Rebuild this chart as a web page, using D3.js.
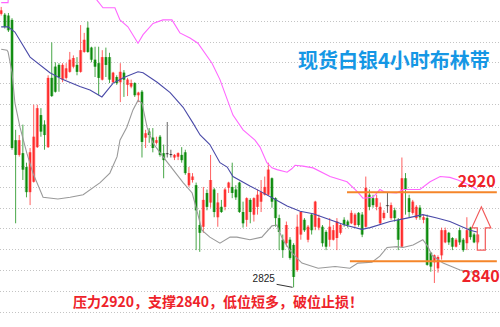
<!DOCTYPE html>
<html><head><meta charset="utf-8">
<script src="https://cdn.jsdelivr.net/npm/d3@7"></script>
<style>html,body{margin:0;padding:0;background:#fff;overflow:hidden}</style>
</head><body><svg id="c" width="500" height="327"></svg>
<script>
// ---- data (4h silver candles) ----
const openP = [3126,3125,3124,3119,2980,2963,2965,2949,2920,2932,2972,3009,2998,2972,3052,3065,3067,3050,3052,3059,
3065,3067,3059,3082,3110,3087,3073,3069,3050,3076,3076,3047,3053,3047,3058,3044,3042,3046,3032,3036,
2983,2990,2983,2977,2984,2965,2965,2964,2960,2961,2963,2966,2928,2934,2928,2882,2880,2919,2908,2923,
2891,2903,2903,2925,2926,2923,2931,2897,2888,2911,2894,2903,2909,2917,2917,2936,2913,2890,2865,2861,
2865,2859,2830,2871,2888,2865,2894,2880,2879,2880,2874,2865,2865,2867,2873,2888,2886,2884,2882,2896,
2894,2880,2917,2913,2903,2884,2890,2905,2890,2899,2888,2857,2936,2913,2896,2890,2902,2888,2890,2850,
2839,2832,2847,2862,2873,2867,2857,2876,2865,2861,2879,2871,2862];
const closeP = [3130,3111,3107,2971,2963,2980,2946,2920,2966,2984,3017,2990,2986,3052,3031,3036,3053,3067,3063,3073,
3075,3059,3084,3096,3082,3073,3065,3052,3076,3067,3050,3058,3046,3059,3050,3050,3046,3032,3035,2978,
2988,2986,2971,2980,2963,2957,2965,2964,2963,2965,2957,2942,2942,2938,2899,2873,2911,2903,2934,2897,
2908,2897,2923,2931,2919,2914,2897,2884,2913,2897,2913,2917,2920,2926,2946,2909,2890,2874,2853,2882,
2844,2822,2880,2897,2876,2880,2876,2909,2890,2861,2857,2880,2876,2886,2882,2882,2882,2896,2894,2882,
2871,2925,2903,2905,2913,2903,2896,2905,2905,2890,2865,2936,2923,2897,2909,2903,2891,2891,2836,2834,
2847,2845,2876,2876,2862,2857,2865,2862,2853,2876,2868,2862,2871];
const highP = [3134,3127,3127,3121,2992,2986,2998,2954,2971,3021,3021,3017,3003,3055,3093,3070,3069,3069,3069,3082,
3078,3076,3113,3104,3117,3088,3088,3088,3084,3087,3081,3059,3055,3069,3061,3052,3050,3047,3036,3038,
2992,2994,2994,2984,2986,2975,3001,2969,2964,2966,2972,2969,2949,2942,2931,2899,2926,2923,2963,2925,
2919,2911,2925,2932,2954,2928,2932,2909,2914,2913,2914,2923,2934,2938,2954,2937,2914,2894,2871,2886,
2868,2861,2894,2898,2890,2882,2895,2910,2894,2882,2876,2890,2882,2890,2884,2891,2888,2899,2896,2897,
2897,2938,2923,2917,2917,2908,2899,2919,2908,2902,2890,2960,2942,2917,2911,2905,2905,2894,2894,2851,
2848,2847,2879,2879,2874,2868,2867,2879,2867,2891,2880,2873,2871];
const lowP = [3124,3109,3105,2969,2884,2961,2934,2914,2905,2931,2971,2984,2969,2971,3030,3035,3036,3047,3050,3058,
3063,3055,3058,3081,3081,3070,3053,3032,3049,3053,3046,3046,3044,3024,3030,3031,3040,3030,3024,2960,
2971,2977,2966,2975,2961,2936,2960,2960,2957,2957,2954,2940,2926,2931,2853,2851,2873,2899,2902,2891,
2880,2896,2899,2919,2913,2911,2896,2879,2880,2884,2886,2894,2897,2916,2916,2902,2880,2853,2844,2857,
2842,2810,2828,2865,2874,2862,2871,2876,2876,2857,2853,2857,2864,2853,2871,2880,2879,2883,2880,2880,
2868,2879,2899,2902,2899,2882,2888,2896,2888,2886,2853,2856,2894,2891,2894,2888,2888,2884,2835,2828,
2815,2827,2842,2861,2859,2853,2856,2859,2851,2853,2865,2861,2860];

// Bollinger bands (candle index, value)
const upperIdx = [0,1.9,2.3,26,26.5,28.2,31.5,32.9,35.1,37.9,39.3,42.05,44.8,47.3,49.5,52.3,54.5,58.4,60.6,64.2,67,70.3,71.7,73.6,75,76.4,79.2,80.5,81.4,83.6,86.4,91.1,95.8,98.8,100.2,103,104.9,106.3,109.6,111.3,112.7,116,118.8,121.6,124.3,126.5,129.9,131.8];
const upperVal = [3139,3139,3185,3185,3142,3133,3133,3119,3111,3092,3102,3115,3119,3119,3104,3098,3092,3069,3050,3009,2992,2980,2972,2954,2948,2946,2943,2947,2951,2950,2948,2938,2932,2920,2913,2914,2923,2920,2919,2923,2923,2923,2932,2938,2937,2934,2928,2923];
const midIdx = [0,1.9,3.8,8,13.5,17.1,21.8,24.6,27.9,31,34.3,37.9,39.3,43.2,46.8,50.4,53.1,55.1,57.8,60.6,62.6,64.2,68.9,72.2,75.3,79.2,82.8,86.4,91.1,95.2,99.9,102.2,107.7,112.4,116.8,120.7,124.3,129.9,131.8];
const midVal = [3111,3111,3105,3076,3058,3050,3042,3038,3030,3046,3053,3059,3058,3047,3035,3018,3000,2986,2975,2954,2949,2938,2927,2920,2913,2904,2898,2895,2888,2882,2877,2879,2886,2890,2894,2890,2886,2876,2874];
const lowIdx = [0,1.6,1.9,3,3.8,5.2,7.1,8.8,11.6,15.7,19.1,22.7,27.4,30.1,32.1,32.9,34.8,36.5,37.9,39,40.4,42,44.8,47.6,50.4,52.9,54.2,55.6,57.8,60.6,63.4,65.3,68.9,72.2,75,76.4,78,80.5,83.3,87.8,92.5,96.6,98.8,102.7,104.9,106.9,109.6,111.3,114.1,116.8,118.2,119.3,122.4,127.1,129.9,131.8];
const lowVal = [3085,3084,3082,3058,3023,2995,2965,2942,2914,2912,2914,2917,2931,2942,2961,2980,2995,3015,3026,3023,2995,2977,2961,2946,2931,2919,2899,2876,2868,2861,2868,2868,2865,2868,2881,2882,2865,2850,2838,2832,2834,2832,2838,2839,2846,2856,2857,2856,2859,2865,2857,2847,2838,2830,2828,2827];

const gridTicks = [3118,3094,3070,3046,3022,2998,2974,2950,2926,2902,2878,2854,2830,2806,2782];
const levels = [2920, 2840];
const levelLabels = ["2920", "2840"];
const levelStartIdx = [95.8, 96.6];
const levelEndIdx = 137.3;
const lowMarkIdx = 81;
const lowMarkText = "2825";
const titleText = "现货白银4小时布林带";
const noteText = "压力2920，支撑2840，低位短多，破位止损！";
const arrowIdx = 133;
const arrowRange = [2903, 2853];

// ---- drawing ----
const W = 500, H = 327;
const svg = d3.select("#c");
const x = d3.scaleLinear().domain([0, 132]).range([1.2, 477.7]);
const y = d3.scaleLinear().domain([3142, 2763]).range([0, 328]);

// dotted grid
const grid = svg.append("g").call(d3.axisRight(y).tickValues(gridTicks).tickSize(W).tickFormat(""));
grid.select(".domain").remove();
grid.selectAll("line").attr("stroke", "#c4c4c4").attr("stroke-dasharray", "1,2").attr("shape-rendering", "crispEdges");

const candles = openP.map((o, i) => ({i, o, c: closeP[i], h: highP[i], l: lowP[i]}));
const col = d => d.c > d.o ? "#ff2b2b" : d.c < d.o ? "#0b8a0b" : "#333";

const cg = svg.append("g");
cg.selectAll("line.w").data(candles).join("line")
  .attr("x1", d => x(d.i)).attr("x2", d => x(d.i))
  .attr("y1", d => y(d.h)).attr("y2", d => y(d.l))
  .attr("stroke", col).attr("stroke-opacity", 0.75).attr("stroke-width", 1);
cg.selectAll("rect.halo").data(candles).join("rect")
  .attr("x", d => x(d.i) - 1.7).attr("width", 3.4)
  .attr("y", d => y(Math.max(d.o, d.c)))
  .attr("height", d => Math.max(1, Math.abs(y(d.o) - y(d.c))))
  .attr("fill", col).attr("fill-opacity", 0.4);
cg.selectAll("rect.body").data(candles).join("rect")
  .attr("x", d => x(d.i) - 0.9).attr("width", 1.8)
  .attr("y", d => y(Math.max(d.o, d.c)))
  .attr("height", d => Math.max(1, Math.abs(y(d.o) - y(d.c))))
  .attr("fill", col);

// bands
const bandLine = (idx, val) => d3.line().x((d, k) => x(idx[k])).y(d => y(d))(val);
svg.append("path").attr("d", bandLine(upperIdx, upperVal)).attr("fill", "none").attr("stroke", "#ff66ff").attr("stroke-width", 1.1);
svg.append("path").attr("d", bandLine(midIdx, midVal)).attr("fill", "none").attr("stroke", "#4a4aa8").attr("stroke-width", 1.1);
svg.append("path").attr("d", bandLine(lowIdx, lowVal)).attr("fill", "none").attr("stroke", "#9a9a9a").attr("stroke-width", 1.1);

// support / resistance lines
levels.forEach((v, k) => {
  svg.append("line").attr("x1", x(levelStartIdx[k])).attr("x2", x(levelEndIdx))
    .attr("y1", y(v)).attr("y2", y(v)).attr("stroke", "#f5862a").attr("stroke-width", 2);
  svg.append("text").attr("x", x(126.5) + (k ? 4 : 0)).attr("y", y(v) + (k ? 21 : -5))
    .attr("font-family", "'Noto Sans CJK SC', sans-serif").attr("font-weight", "bold")
    .attr("font-size", 16).attr("fill", "#ee2229").text(levelLabels[k]);
});

// low annotation
const lx = x(lowMarkIdx), ly = y(lowP[lowMarkIdx]);
svg.append("line").attr("x1", lx - 17).attr("y1", ly - 3).attr("x2", lx - 1).attr("y2", ly)
  .attr("stroke", "#333").attr("stroke-width", 1);
svg.append("text").attr("x", lx - 41).attr("y", ly - 5)
  .attr("font-family", "'Liberation Sans', Arial, sans-serif").attr("font-size", 10)
  .attr("fill", "#222").text(lowMarkText);

// up arrow
const ax = x(arrowIdx), at = y(arrowRange[0]), ab = y(arrowRange[1]);
const hw = 9.5, sw = 4, hh = 21;
svg.append("path")
  .attr("d", `M${ax},${at} L${ax + hw},${at + hh} L${ax + sw},${at + hh} L${ax + sw},${ab} L${ax - sw},${ab} L${ax - sw},${at + hh} L${ax - hw},${at + hh} Z`)
  .attr("fill", "none").attr("stroke", "#f25a5a").attr("stroke-width", 1.2);

// title & note
svg.append("text").attr("x", 298).attr("y", 68)
  .attr("font-family", "'Noto Sans CJK SC', sans-serif").attr("font-weight", "bold")
  .attr("font-size", 20).attr("fill", "#1597e5").text(titleText);
svg.append("text").attr("x", 73).attr("y", 307)
  .attr("font-family", "'Noto Sans CJK SC', sans-serif").attr("font-weight", "bold")
  .attr("font-size", 14).attr("fill", "#ee2229").text(noteText);
</script>
</body></html>
